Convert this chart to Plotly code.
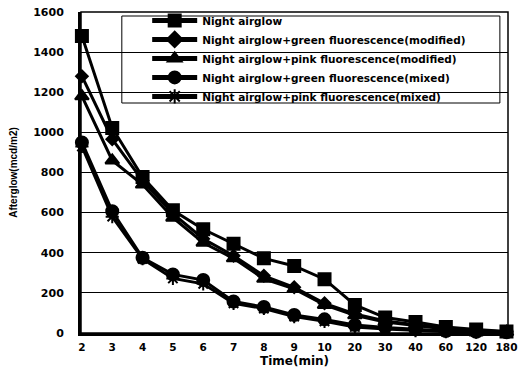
import plotly.graph_objects as go

times = ["2", "3", "4", "5", "6", "7", "8", "9", "10", "20", "30", "40", "60", "120", "180"]
night = [1480, 1022, 777, 612, 517, 445, 372, 334, 268, 140, 77, 55, 30, 18, 8]
green_mod = [1280, 966, 760, 595, 470, 385, 285, 228, 148, 95, 60, 40, 22, 12, 6]
pink_mod = [1180, 860, 740, 575, 450, 372, 270, 220, 140, 88, 55, 38, 20, 10, 5]
green_mix = [950, 607, 375, 292, 264, 157, 130, 90, 68, 40, 28, 18, 10, 6, 4]
pink_mix = [930, 580, 370, 272, 245, 148, 122, 82, 58, 30, 20, 12, 7, 4, 3]
y_ticks = [0, 200, 400, 600, 800, 1000, 1200, 1400, 1600]

names = [
    "Night airglow",
    "Night airglow+green fluorescence(modified)",
    "Night airglow+pink fluorescence(modified)",
    "Night airglow+green fluorescence(mixed)",
    "Night airglow+pink fluorescence(mixed)",
]
series = [night, green_mod, pink_mod, green_mix, pink_mix]
symbols = ["square", "diamond", "triangle-up", "circle", "asterisk-open"]
sizes = [12, 9, 12, 12, 11]

bold = dict(family="DejaVu Sans, Arial, sans-serif", color="black")

fig = go.Figure()
for name, vals, sym, sz in zip(names, series, symbols, sizes):
    fig.add_trace(go.Scatter(
        x=times, y=vals, name="<b>%s</b>" % name, mode="lines+markers",
        line=dict(color="black", width=3),
        marker=dict(symbol=sym, size=sz, color="black",
                    line=dict(color="black", width=2)),
        cliponaxis=False,
    ))

# legend box (white, covers gridlines)
fig.add_shape(type="rect", xref="paper", yref="paper",
              x0=0.0956, x1=0.981, y0=0.7165, y1=0.9875,
              line=dict(color="black", width=1), fillcolor="white", layer="between")
# plot frame
fig.add_shape(type="rect", xref="paper", yref="paper", x0=0, y0=0, x1=1, y1=1,
              line=dict(color="black", width=1.5), layer="between")

fig.update_layout(
    width=518, height=368,
    margin=dict(l=81, r=10, t=12, b=35, autoexpand=False),
    paper_bgcolor="white", plot_bgcolor="white",
    font=dict(size=10, **bold),
    showlegend=True,
    legend=dict(
        x=0.155, y=1.019, xanchor="left", yanchor="top",
        bgcolor="rgba(0,0,0,0)", borderwidth=0,
        font=dict(size=10.5, **bold), itemwidth=45,
        tracegroupgap=0, itemsizing="constant",
    ),
    xaxis=dict(
        type="category", range=[-0.03, 14.05],
        showgrid=False, showline=True, linecolor="black", linewidth=3,
        ticks="", ticklabelstandoff=2, automargin=False,
        tickvals=times, ticktext=["<b>%s</b>" % t for t in times],
        tickfont=dict(size=10.5, **bold),
        title=dict(text="<b>Time(min)</b>", font=dict(size=12, **bold), standoff=6),
    ),
    yaxis=dict(
        range=[0, 1600], automargin=False,
        showgrid=True, gridcolor="black", gridwidth=1,
        showline=True, linecolor="black", linewidth=3,
        ticks="", ticklabelstandoff=12,
        tickvals=y_ticks, ticktext=["<b>%d</b>" % v for v in y_ticks],
        tickfont=dict(size=11, **bold),
        title=dict(text="<b>Afterglow(mcd/m2)</b>",
                   font=dict(size=10, family="Liberation Sans, Arial", color="black"),
                   standoff=14),
    ),
)

fig.write_html("out.html", config={"displayModeBar": False},
               post_script="document.body.style.margin='0px';")
